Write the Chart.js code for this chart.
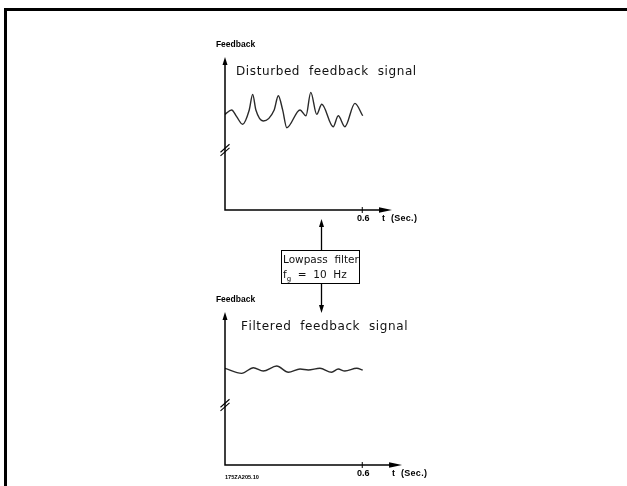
<!DOCTYPE html>
<html>
<head>
<meta charset="utf-8">
<script src="https://cdn.jsdelivr.net/npm/chart.js@4.4.0/dist/chart.umd.min.js"></script>
<style>
  html, body { margin: 0; padding: 0; background: #fff; }
  #page { position: relative; width: 627px; height: 486px; overflow: hidden; }
  #page canvas { position: absolute; left: 0; top: 0; }
  .frame { position: absolute; background: #000; }
  #filterBox { position: absolute; left: 281px; top: 250px; width: 77px; height: 32px;
    border: 1.5px solid #000; font-family: "DejaVu Sans"; font-size: 10.5px; color: #111; }
  #filterBox span { position: absolute; white-space: pre; line-height: 12px; }
  #filterBox sub { font-size: 7px; vertical-align: -3px; }
</style>
</head>
<body>
<div id="page">
  <div class="frame" style="left:4px; top:8px; width:623px; height:3px;"></div>
  <div class="frame" style="left:4px; top:8px; width:3px; height:478px;"></div>
  <canvas id="upper" width="627" height="486"></canvas>
  <canvas id="lower" width="627" height="486"></canvas>
  <div id="filterBox">
    <span style="left:1px; top:2px;">Lowpass  filter</span>
    <span style="left:1px; top:17px;">f<sub>g</sub>  =  10  Hz</span>
  </div>
</div>
<script>
// disturbed feedback signal (time in s, feedback in arbitrary units)
const disturbedTime  = [0.000, 0.029, 0.051, 0.077, 0.106, 0.121, 0.135, 0.167, 0.215, 0.233, 0.252,
                        0.270, 0.328, 0.354, 0.375, 0.401, 0.423, 0.473, 0.495, 0.524, 0.568, 0.602];
const disturbedValue = [6.25, 6.54, 6.10, 5.60, 6.54, 7.56, 6.54, 5.82, 6.54, 7.47, 6.54,
                        5.38, 6.54, 6.16, 7.69, 6.25, 6.91, 5.44, 6.16, 5.44, 6.97, 6.16];
// same signal after the 10 Hz lowpass filter
const filteredTime  = [0.000, 0.073, 0.124, 0.167, 0.226, 0.277, 0.328, 0.364, 0.415, 0.466, 0.495, 0.524, 0.576, 0.602];
const filteredValue = [6.32, 5.99, 6.36, 6.14, 6.47, 6.06, 6.27, 6.21, 6.32, 6.06, 6.27, 6.14, 6.32, 6.21];
const timeTicks = [0.6];
const timeTickLabels = ['0.6'];

function spacedText(ctx, str, x, y, gap) {
  for (const ch of str) {
    ctx.fillText(ch, x, y);
    x += ctx.measureText(ch).width + gap;
  }
}

// hand drawn looking axes: arrows, axis break, labels
const sketchAxes = {
  id: 'sketchAxes',
  afterDraw(chart, args, o) {
    const ctx = chart.ctx;
    const x = chart.scales.x, y = chart.scales.y;
    const x0 = x.getPixelForValue(0), y0 = y.getPixelForValue(0);
    const yTop = y.getPixelForValue(y.max);
    const xTip = x.getPixelForValue(o.xTip);
    ctx.save();
    ctx.strokeStyle = '#000';
    ctx.fillStyle = '#000';
    ctx.lineWidth = 1.5;
    ctx.beginPath();
    ctx.moveTo(x0, yTop + 6);
    ctx.lineTo(x0, y0);
    ctx.lineTo(xTip - 10, y0);
    ctx.stroke();
    // arrow heads
    ctx.beginPath();
    ctx.moveTo(x0, yTop);
    ctx.lineTo(x0 - 2.5, yTop + 8);
    ctx.lineTo(x0 + 2.5, yTop + 8);
    ctx.closePath();
    ctx.fill();
    ctx.beginPath();
    ctx.moveTo(xTip, y0);
    ctx.lineTo(xTip - 13, y0 - 2.8);
    ctx.lineTo(xTip - 13, y0 + 2.8);
    ctx.closePath();
    ctx.fill();
    // axis break
    const yb = y.getPixelForValue(o.breakAt);
    ctx.lineWidth = 1.1;
    [-1.8, 1.8].forEach(d => {
      ctx.beginPath();
      ctx.moveTo(x0 - 4.5, yb + 4 + d);
      ctx.lineTo(x0 + 4.5, yb - 4 + d);
      ctx.stroke();
    });
    // ticks
    ctx.lineWidth = 1;
    ctx.font = 'bold 9px "Liberation Sans"';
    ctx.textAlign = 'center';
    ctx.textBaseline = 'middle';
    timeTicks.forEach((t, i) => {
      const px = x.getPixelForValue(t);
      ctx.beginPath();
      ctx.moveTo(px, y0 - 3);
      ctx.lineTo(px, y0 + 3);
      ctx.stroke();
      ctx.fillText(timeTickLabels[i], px + 1, y0 + 9);
    });
    ctx.textAlign = 'left';
    spacedText(ctx, 't  (Sec.)', xTip - 10, y0 + 9, 0.3);
    ctx.font = 'bold 8.5px "Liberation Sans"';
    ctx.textAlign = 'center';
    ctx.fillText('Feedback', x0 + 10.5, yTop - 12);
    if (o.code) {
      ctx.font = 'bold 5.6px "Liberation Sans"';
      ctx.textAlign = 'left';
      ctx.fillText(o.code, x0, y0 + 12);
    }
    // title
    ctx.font = '12px "DejaVu Sans"';
    ctx.textAlign = 'left';
    ctx.fillStyle = '#111';
    spacedText(ctx, o.title, x0 + o.titleDx, yTop + 15, 0.6);
    ctx.restore();
  }
};

// arrows from the upper chart into the filter box and out to the lower chart
const filterLink = {
  id: 'filterLink',
  afterDraw(chart) {
    const ctx = chart.ctx;
    const ax = 321.5;
    ctx.save();
    ctx.strokeStyle = '#000';
    ctx.fillStyle = '#000';
    ctx.lineWidth = 1.3;
    [[250, 219], [284, 313]].forEach(([from, tip]) => {
      const dir = Math.sign(tip - from);
      ctx.beginPath();
      ctx.moveTo(ax, from);
      ctx.lineTo(ax, tip - dir * 6);
      ctx.stroke();
      ctx.beginPath();
      ctx.moveTo(ax, tip);
      ctx.lineTo(ax - 2.5, tip - dir * 8);
      ctx.lineTo(ax + 2.5, tip - dir * 8);
      ctx.closePath();
      ctx.fill();
    });
    ctx.restore();
  }
};

function makeChart(id, times, values, opts, extra) {
  return new Chart(document.getElementById(id), {
    type: 'line',
    data: {
      datasets: [{
        data: times.map((t, i) => ({ x: t, y: values[i] })),
        borderColor: '#2a2a2a',
        borderWidth: 1.4,
        pointRadius: 0,
        cubicInterpolationMode: 'monotone',
        fill: false
      }]
    },
    options: {
      responsive: false,
      animation: false,
      events: [],
      layout: { padding: { left: 225, right: 219, top: opts.top, bottom: opts.bottom } },
      plugins: { legend: { display: false }, tooltip: { enabled: false }, sketchAxes: opts },
      scales: {
        x: { type: 'linear', min: 0, max: 0.8, display: false },
        y: { min: 0, max: 10, display: false }
      }
    },
    plugins: [sketchAxes].concat(extra || [])
  });
}

makeChart('upper', disturbedTime, disturbedValue,
  { top: 57, bottom: 276, xTip: 0.73, breakAt: 3.92, title: 'Disturbed  feedback  signal', titleDx: 11 },
  [filterLink]);
makeChart('lower', filteredTime, filteredValue,
  { top: 312, bottom: 21, xTip: 0.774, breakAt: 3.92, title: 'Filtered  feedback  signal', titleDx: 16, code: '175ZA205.10' });
</script>
</body>
</html>
